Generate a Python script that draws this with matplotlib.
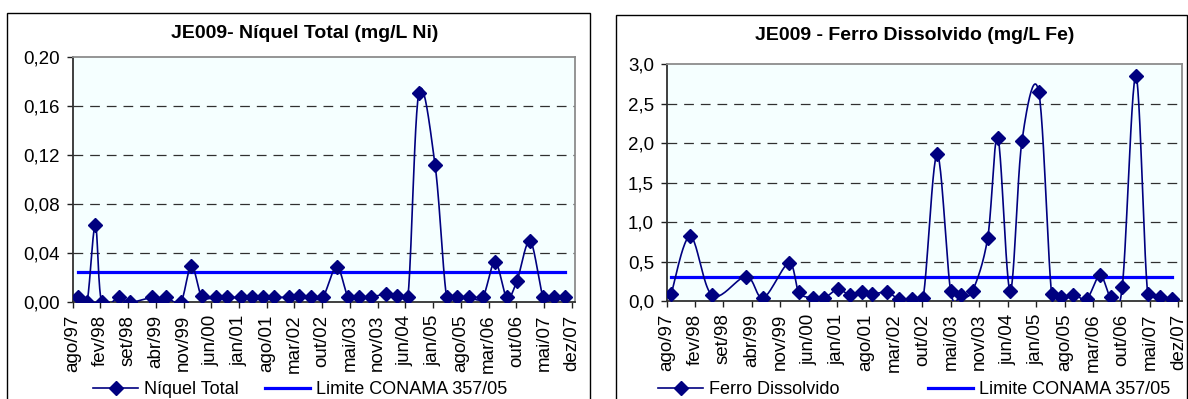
import numpy as np
import pandas as pd
import matplotlib
matplotlib.use("Agg")
import matplotlib.pyplot as plt
import matplotlib.dates as mdates
from matplotlib.lines import Line2D
from matplotlib.patches import Rectangle

plt.rcParams['font.family'] = ['Liberation Sans', 'DejaVu Sans']
plt.rcParams['lines.scale_dashes'] = False

# ---------------- data ----------------
ni_dates = ["1997-09-10", "1997-11-17", "1998-01-19", "1998-03-09", "1998-07-15", "1998-10-11",
            "1999-03-27", "1999-04-22", "1999-07-11", "1999-10-28", "2000-01-17", "2000-04-04",
            "2000-07-19", "2000-10-15", "2001-01-25", "2001-04-18", "2001-07-15", "2001-10-04",
            "2002-01-28", "2002-04-09", "2002-07-11", "2002-10-08", "2003-01-22", "2003-04-20",
            "2003-07-10", "2003-10-07", "2004-01-31", "2004-04-21", "2004-07-14", "2004-10-05",
            "2005-02-05", "2005-05-04", "2005-07-24", "2005-10-23", "2006-02-01", "2006-05-05",
            "2006-08-02", "2006-10-17", "2007-01-26", "2007-05-06", "2007-07-26", "2007-10-18"]
ni_values = [0.004, 0.000, 0.063, 0.000, 0.004, 0.000,
             0.004, 0.000, 0.004, 0.000, 0.030, 0.005,
             0.004, 0.004, 0.004, 0.004, 0.004, 0.004,
             0.004, 0.005, 0.004, 0.004, 0.029, 0.004,
             0.004, 0.004, 0.007, 0.005, 0.004, 0.171,
             0.112, 0.004, 0.004, 0.004, 0.004, 0.033,
             0.004, 0.017, 0.050, 0.004, 0.004, 0.004]
ni_limit = 0.025

fe_dates = ["1997-09-04", "1998-01-22", "1998-07-04", "1999-03-12", "1999-07-16", "2000-01-21",
            "2000-04-05", "2000-07-16", "2000-10-10", "2001-01-19", "2001-04-19", "2001-07-11",
            "2001-09-23", "2002-01-18", "2002-04-15", "2002-07-16", "2002-10-09", "2003-01-20",
            "2003-04-30", "2003-07-15", "2003-10-09", "2004-01-29", "2004-04-13", "2004-07-13",
            "2004-10-08", "2005-02-09", "2005-05-15", "2005-07-25", "2005-10-22", "2006-01-31",
            "2006-05-08", "2006-07-26", "2006-10-19", "2007-01-27", "2007-04-25", "2007-07-25",
            "2007-10-22"]
fe_values = [0.09, 0.82, 0.07, 0.31, 0.04, 0.48,
             0.11, 0.04, 0.04, 0.15, 0.07, 0.11,
             0.09, 0.11, 0.02, 0.02, 0.04, 1.86,
             0.13, 0.07, 0.13, 0.80, 2.07, 0.13,
             2.03, 2.65, 0.09, 0.05, 0.08, 0.03,
             0.33, 0.05, 0.18, 2.85, 0.09, 0.05,
             0.02]
fe_limit = 0.3

tick_labels = ["ago/97", "fev/98", "set/98", "abr/99", "nov/99", "jun/00", "jan/01", "ago/01",
               "mar/02", "out/02", "mai/03", "nov/03", "jun/04", "jan/05", "ago/05", "mar/06",
               "out/06", "mai/07", "dez/07"]

titles = ["JE009- Níquel Total (mg/L Ni)", "JE009 - Ferro Dissolvido (mg/L Fe)"]
series_names = ["Níquel Total", "Ferro Dissolvido"]
limit_name = "Limite CONAMA 357/05"

# --------------- helpers ---------------
def smooth(x, y, n=24):
    P = np.column_stack([x, y]).astype(float)
    Pp = np.vstack([P[0], P, P[-1]])
    out = [P[:1]]
    t = np.linspace(0, 1, n + 1)[1:, None]
    for i in range(len(P) - 1):
        p0, p1, p2, p3 = Pp[i], Pp[i + 1], Pp[i + 2], Pp[i + 3]
        c1 = p1 + (p2 - p0) / 6.0
        c2 = p2 - (p3 - p1) / 6.0
        seg = ((1 - t) ** 3) * p1 + 3 * ((1 - t) ** 2) * t * c1 + 3 * (1 - t) * t ** 2 * c2 + t ** 3 * p2
        out.append(seg)
    Q = np.vstack(out)
    return Q[:, 0], Q[:, 1]

W, H = 1188, 399
fig = plt.figure(figsize=(W / 100, H / 100), dpi=100)
fig.patch.set_facecolor("white")

def fx(px):
    return px / W

def fy(py):
    return 1 - py / H

navy = "#000080"
blue = "#0000FF"
start = pd.Timestamp("1997-08-01")
end = pd.Timestamp("2008-01-01")
tick_pos = [mdates.date2num(start + pd.Timedelta(days=210 * k)) for k in range(len(tick_labels))]

charts = [
    dict(dates=ni_dates, vals=ni_values, limit=ni_limit, ymax=0.20, ystep=0.04, fmt="{:.2f}",
         ax=(72.7, 57.3, 575, 302.3), box=(7.3, 13.3, 590), title_xy=(305, 33),
         leg=[(93, 0), (265, 1)]),
    dict(dates=fe_dates, vals=fe_values, limit=fe_limit, ymax=3.0, ystep=0.5, fmt="{:.1f}",
         ax=(666.6, 64.3, 1181.7, 301), box=(615.7, 15, 1186.5), title_xy=(915, 35),
         leg=[(658, 0), (928, 1)]),
]

for ci, c in enumerate(charts):
    x0, y0, x1, y1 = c["ax"]
    bx0, by0, bx1 = c["box"]
    fig.patches.append(Rectangle((fx(bx0), -0.1), fx(bx1) - fx(bx0), fy(by0) + 0.1,
                                 transform=fig.transFigure, fill=False, ec="black", lw=1.0))
    ax = fig.add_axes([fx(x0), fy(y1), fx(x1) - fx(x0), fy(y0) - fy(y1)])
    ax.set_facecolor("#F5FFFF")
    xd = mdates.date2num(pd.to_datetime(c["dates"]))
    yv = np.array(c["vals"], dtype=float)
    sx, sy = smooth(xd, yv)
    ax.plot(xd, np.full(len(xd), c["limit"]), color=blue, lw=2.3, zorder=3)
    ax.plot(sx, sy, color=navy, lw=1.2, zorder=4)
    ax.plot(xd, yv, linestyle="none", marker="D", ms=7, color=navy, mec=navy, zorder=5)
    ax.set_xlim(mdates.date2num(start), mdates.date2num(end))
    ax.set_ylim(0, c["ymax"])
    yt = np.arange(0, c["ymax"] + 1e-9, c["ystep"])
    ax.set_yticks(yt)
    ax.set_yticklabels([c["fmt"].format(v).replace(".", ",") for v in yt])
    ax.set_xticks(tick_pos)
    ax.set_xticklabels(tick_labels, rotation=90)
    for v in yt[1:-1]:
        ax.axhline(v, color="#303030", lw=0.9, linestyle=(0, (7, 5)), zorder=1)
    ax.tick_params(axis="both", direction="out", length=4, width=1, color="#202020",
                   labelsize=13.5, pad=5)
    for s in ["top", "right"]:
        ax.spines[s].set_color("#8C8C8C")
        ax.spines[s].set_linewidth(1.3)
    for s in ["left", "bottom"]:
        ax.spines[s].set_color("#303030")
        ax.spines[s].set_linewidth(1.3)
    fig.text(fx(c["title_xy"][0]), fy(c["title_xy"][1]), titles[ci], ha="center", va="center",
             fontsize=14, fontweight="bold")
    handles = [Line2D([], [], color=navy, lw=1.2, marker="D", ms=7),
               Line2D([], [], color=blue, lw=2.3)]
    labels = [series_names[ci], limit_name]
    for lx, idx in c["leg"]:
        fig.legend([handles[idx]], [labels[idx]], loc="center left",
                   bbox_to_anchor=(fx(lx), fy(390)), frameon=False, fontsize=13,
                   handlelength=2.5, handletextpad=0.35, borderpad=0, borderaxespad=0)

fig.savefig("out.png", dpi=100)
